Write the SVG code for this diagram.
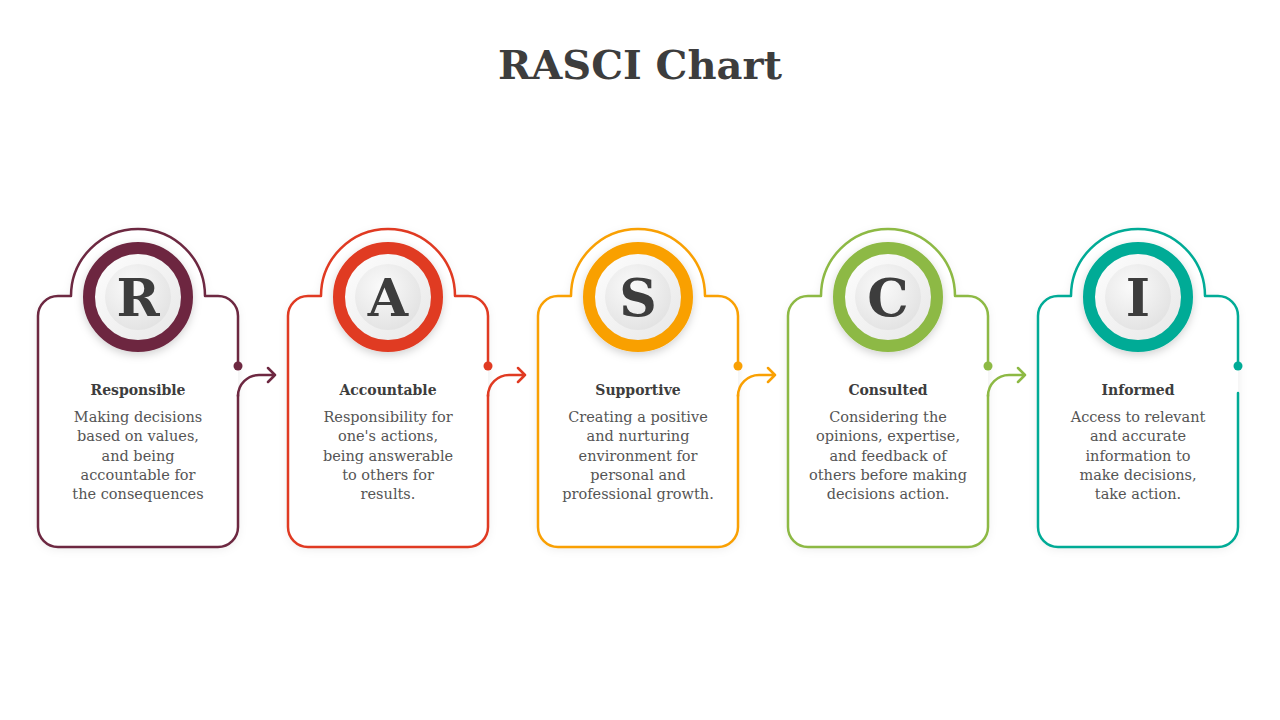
<svg xmlns="http://www.w3.org/2000/svg" width="1280" height="720" viewBox="0 0 1280 720">
<defs>
  <filter id="sh" x="-20%" y="-20%" width="140%" height="140%">
    <feDropShadow dx="0" dy="2" stdDeviation="5" flood-color="#000" flood-opacity="0.08"/>
  </filter>
  <filter id="csh" x="-30%" y="-30%" width="160%" height="160%">
    <feDropShadow dx="0" dy="3" stdDeviation="4" flood-color="#000" flood-opacity="0.18"/>
  </filter>
  <radialGradient id="inner" cx="40%" cy="35%" r="70%">
    <stop offset="0" stop-color="#fafafa"/>
    <stop offset="1" stop-color="#e2e2e2"/>
  </radialGradient>
  <linearGradient id="ringw" x1="0" y1="0" x2="1" y2="1">
    <stop offset="0" stop-color="#ffffff"/>
    <stop offset="1" stop-color="#e6e6e6"/>
  </linearGradient>
</defs>
<style>
  .title{font-family:"DejaVu Serif","Liberation Serif",serif;font-weight:bold;font-size:40px;fill:#3d3d3d;text-anchor:middle}
  .letter{font-family:"DejaVu Serif","Liberation Serif",serif;font-weight:bold;font-size:52px;fill:#3d3d3d;text-anchor:middle}
  .head{font-family:"DejaVu Serif","Liberation Serif",serif;font-weight:bold;font-size:14px;fill:#3d3d3d;text-anchor:middle}
  .body{font-family:"DejaVu Serif","Liberation Serif",serif;font-size:14.5px;fill:#555555;text-anchor:middle}
  .card{fill:#ffffff;stroke-width:2.5;stroke-linejoin:round;stroke-linecap:round}
  .line{fill:none;stroke-width:2.5;stroke-linecap:round;stroke-linejoin:round}
</style>
<rect width="1280" height="720" fill="#ffffff"/>
<text class="title" x="640" y="79">RASCI Chart</text>

<!-- card backgrounds (fill only) -->
<g id="card-R">
  <path class="card" filter="url(#sh)" stroke="none" d="M238 316 A20 20 0 0 0 218 296 L205 296 A67 67 0 0 0 71 296 L58 296 A20 20 0 0 0 38 316 L38 527 A20 20 0 0 0 58 547 L218 547 A20 20 0 0 0 238 527 Z"/>
  <path class="line" stroke="#6d2841" d="M238 366 L238 316 A20 20 0 0 0 218 296 L205 296 A67 67 0 0 0 71 296 L58 296 A20 20 0 0 0 38 316 L38 527 A20 20 0 0 0 58 547 L218 547 A20 20 0 0 0 238 527 L238 395"/>
  <circle cx="238" cy="366" r="4.5" fill="#6d2841"/>
  <circle cx="138" cy="297" r="49" fill="url(#ringw)" stroke="#6d2841" stroke-width="12" filter="url(#csh)"/>
  <circle cx="138" cy="297" r="33" fill="url(#inner)"/>
  <text class="letter" x="138" y="316">R</text>
  <text class="head" x="138" y="395">Responsible</text>
  <text class="body" x="138" y="422">Making decisions</text>
  <text class="body" x="138" y="441">based on values,</text>
  <text class="body" x="138" y="461">and being</text>
  <text class="body" x="138" y="480">accountable for</text>
  <text class="body" x="138" y="499">the consequences</text>
</g>

<g id="card-A">
  <path class="card" filter="url(#sh)" stroke="none" d="M488 316 A20 20 0 0 0 468 296 L455 296 A67 67 0 0 0 321 296 L308 296 A20 20 0 0 0 288 316 L288 527 A20 20 0 0 0 308 547 L468 547 A20 20 0 0 0 488 527 Z"/>
  <path class="line" stroke="#e03a22" d="M488 366 L488 316 A20 20 0 0 0 468 296 L455 296 A67 67 0 0 0 321 296 L308 296 A20 20 0 0 0 288 316 L288 527 A20 20 0 0 0 308 547 L468 547 A20 20 0 0 0 488 527 L488 395"/>
  <circle cx="488" cy="366" r="4.5" fill="#e03a22"/>
  <circle cx="388" cy="297" r="49" fill="url(#ringw)" stroke="#e03a22" stroke-width="12" filter="url(#csh)"/>
  <circle cx="388" cy="297" r="33" fill="url(#inner)"/>
  <text class="letter" x="388" y="316">A</text>
  <text class="head" x="388" y="395">Accountable</text>
  <text class="body" x="388" y="422">Responsibility for</text>
  <text class="body" x="388" y="441">one's actions,</text>
  <text class="body" x="388" y="461">being answerable</text>
  <text class="body" x="388" y="480">to others for</text>
  <text class="body" x="388" y="499">results.</text>
</g>

<g id="card-S">
  <path class="card" filter="url(#sh)" stroke="none" d="M738 316 A20 20 0 0 0 718 296 L705 296 A67 67 0 0 0 571 296 L558 296 A20 20 0 0 0 538 316 L538 527 A20 20 0 0 0 558 547 L718 547 A20 20 0 0 0 738 527 Z"/>
  <path class="line" stroke="#f9a003" d="M738 366 L738 316 A20 20 0 0 0 718 296 L705 296 A67 67 0 0 0 571 296 L558 296 A20 20 0 0 0 538 316 L538 527 A20 20 0 0 0 558 547 L718 547 A20 20 0 0 0 738 527 L738 395"/>
  <circle cx="738" cy="366" r="4.5" fill="#f9a003"/>
  <circle cx="638" cy="297" r="49" fill="url(#ringw)" stroke="#f9a003" stroke-width="12" filter="url(#csh)"/>
  <circle cx="638" cy="297" r="33" fill="url(#inner)"/>
  <text class="letter" x="638" y="316">S</text>
  <text class="head" x="638" y="395">Supportive</text>
  <text class="body" x="638" y="422">Creating a positive</text>
  <text class="body" x="638" y="441">and nurturing</text>
  <text class="body" x="638" y="461">environment for</text>
  <text class="body" x="638" y="480">personal and</text>
  <text class="body" x="638" y="499">professional growth.</text>
</g>

<g id="card-C">
  <path class="card" filter="url(#sh)" stroke="none" d="M988 316 A20 20 0 0 0 968 296 L955 296 A67 67 0 0 0 821 296 L808 296 A20 20 0 0 0 788 316 L788 527 A20 20 0 0 0 808 547 L968 547 A20 20 0 0 0 988 527 Z"/>
  <path class="line" stroke="#8db944" d="M988 366 L988 316 A20 20 0 0 0 968 296 L955 296 A67 67 0 0 0 821 296 L808 296 A20 20 0 0 0 788 316 L788 527 A20 20 0 0 0 808 547 L968 547 A20 20 0 0 0 988 527 L988 395"/>
  <circle cx="988" cy="366" r="4.5" fill="#8db944"/>
  <circle cx="888" cy="297" r="49" fill="url(#ringw)" stroke="#8db944" stroke-width="12" filter="url(#csh)"/>
  <circle cx="888" cy="297" r="33" fill="url(#inner)"/>
  <text class="letter" x="888" y="316">C</text>
  <text class="head" x="888" y="395">Consulted</text>
  <text class="body" x="888" y="422">Considering the</text>
  <text class="body" x="888" y="441">opinions, expertise,</text>
  <text class="body" x="888" y="461">and feedback of</text>
  <text class="body" x="888" y="480">others before making</text>
  <text class="body" x="888" y="499">decisions action.</text>
</g>

<g id="card-I">
  <path class="card" filter="url(#sh)" stroke="none" d="M1238 316 A20 20 0 0 0 1218 296 L1205 296 A67 67 0 0 0 1071 296 L1058 296 A20 20 0 0 0 1038 316 L1038 527 A20 20 0 0 0 1058 547 L1218 547 A20 20 0 0 0 1238 527 Z"/>
  <path class="line" stroke="#00ab96" d="M1238 366 L1238 316 A20 20 0 0 0 1218 296 L1205 296 A67 67 0 0 0 1071 296 L1058 296 A20 20 0 0 0 1038 316 L1038 527 A20 20 0 0 0 1058 547 L1218 547 A20 20 0 0 0 1238 527 L1238 393"/>
  <circle cx="1238" cy="366" r="4.5" fill="#00ab96"/>
  <circle cx="1138" cy="297" r="49" fill="url(#ringw)" stroke="#00ab96" stroke-width="12" filter="url(#csh)"/>
  <circle cx="1138" cy="297" r="33" fill="url(#inner)"/>
  <text class="letter" x="1138" y="316">I</text>
  <text class="head" x="1138" y="395">Informed</text>
  <text class="body" x="1138" y="422">Access to relevant</text>
  <text class="body" x="1138" y="441">and accurate</text>
  <text class="body" x="1138" y="461">information to</text>
  <text class="body" x="1138" y="480">make decisions,</text>
  <text class="body" x="1138" y="499">take action.</text>
</g>

<g id="connectors">
  <path class="line" stroke="#6d2841" d="M238 396 A21 21 0 0 1 259 375 L275 375 M268 368 L275 375 L268 382"/>
  <path class="line" stroke="#e03a22" d="M488 396 A21 21 0 0 1 509 375 L525 375 M518 368 L525 375 L518 382"/>
  <path class="line" stroke="#f9a003" d="M738 396 A21 21 0 0 1 759 375 L775 375 M768 368 L775 375 L768 382"/>
  <path class="line" stroke="#8db944" d="M988 396 A21 21 0 0 1 1009 375 L1025 375 M1018 368 L1025 375 L1018 382"/>
</g>
</svg>
